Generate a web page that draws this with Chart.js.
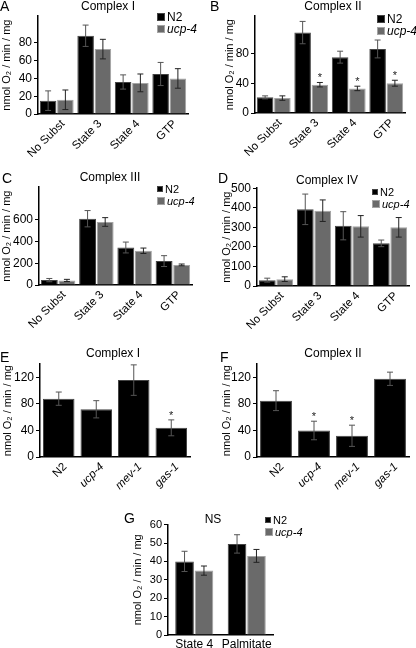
<!DOCTYPE html>
<html>
<head>
<meta charset="utf-8">
<script src="https://cdn.jsdelivr.net/npm/chart.js@4"></script>
<style>
  body { margin: 0; background: #fff; }
  #wrap { position: relative; width: 416px; height: 648px; overflow: hidden; font-family: "Liberation Sans", Arial, sans-serif; color: #000; }
  canvas { position: absolute; }
  .txt { position: absolute; white-space: nowrap; line-height: 1; transform: translate(-50%, -50%); }
  .letter { position: absolute; font-size: 14px; line-height: 1; }
  .leg { position: absolute; font-size: 12px; line-height: 1; white-space: nowrap; }
  .leg div { height: 12px; display: flex; align-items: center; }
  .leg span.sq { display: inline-block; margin-right: 2px; box-sizing: border-box; }
  .slant { position: absolute; width: 0; height: 0; transform: rotate(-45deg); transform-origin: 0 0; }
  .slant span { position: absolute; right: 0; top: 0; transform: translateY(-50%); white-space: nowrap; font-size: 11.5px; line-height: 1; }
</style>
</head>
<body>
<div id="wrap">
  <canvas id="cA"></canvas><canvas id="cB"></canvas>
  <canvas id="cC"></canvas><canvas id="cD"></canvas>
  <canvas id="cE"></canvas><canvas id="cF"></canvas>
  <canvas id="cG"></canvas>
</div>
<script>
// categories
const substrates = ["No Subst", "State 3", "State 4", "GTP"];
const strains = ["N2", "ucp-4", "mev-1", "gas-1"];
const fatLabels = ["State 4", "Palmitate"];
const seriesNames = ["N2", "ucp-4"];

// A - complex I
const aN2 = [15, 88, 36, 45];
const aN2Err = [11, 12, 8, 13];
const aUcp = [16, 73, 35, 40];
const aUcpErr = [11, 11, 10, 11];

// B - complex II
const bN2 = [21, 108, 75, 86];
const bN2Err = [2, 15, 8, 12];
const bUcp = [20, 38, 33, 40];
const bUcpErr = [3, 3, 3, 4];
const bUcpStars = [false, true, true, true];

// C - complex III
const cN2 = [45, 610, 345, 220];
const cN2Err = [15, 75, 50, 50];
const cUcp = [42, 580, 315, 185];
const cUcpErr = [10, 40, 25, 8];

// D - complex IV
const dN2 = [30, 392, 308, 218];
const dN2Err = [10, 78, 72, 17];
const dUcp = [35, 385, 305, 300];
const dUcpErr = [12, 55, 55, 50];

// E / F - mutants
const eVals = [88, 72, 116, 44];
const eErr = [10, 13, 23, 12];
const eStars = [false, false, false, true];
const fVals = [85, 40, 32, 118];
const fErr = [15, 14, 16, 10];
const fStars = [false, true, true, false];

// G - palmitate
const gN2 = [40, 49.5];
const gN2Err = [5.5, 5];
const gUcp = [35, 43];
const gUcpErr = [2.5, 3.5];

const FONT = '"Liberation Sans", Arial, sans-serif';
Chart.defaults.font.family = FONT;
Chart.defaults.color = "#000";

const BLACK = { bg: "#000", border: "#444", err: "#555" };
const GREY = { bg: "#6a6a6a", border: "#a4a4a4", err: "#222" };
const wrap = document.getElementById("wrap");

const errorBars = {
  id: "errorBars",
  afterDatasetsDraw(chart) {
    const ctx = chart.ctx;
    const y = chart.scales.y;
    chart.data.datasets.forEach((ds, i) => {
      const meta = chart.getDatasetMeta(i);
      meta.data.forEach((bar, j) => {
        const v = ds.data[j], e = ds.errors[j];
        const top = y.getPixelForValue(v + e);
        const bot = y.getPixelForValue(Math.max(v - e, 0));
        const half = Math.min(3, bar.width * 0.18);
        ctx.save();
        ctx.strokeStyle = ds.errColor;
        ctx.lineWidth = 1;
        ctx.beginPath();
        ctx.moveTo(bar.x, top); ctx.lineTo(bar.x, bot);
        ctx.moveTo(bar.x - half, top); ctx.lineTo(bar.x + half, top);
        ctx.moveTo(bar.x - half, bot); ctx.lineTo(bar.x + half, bot);
        ctx.stroke();
        if (ds.stars && ds.stars[j]) {
          ctx.fillStyle = "#222";
          ctx.font = "11px " + FONT;
          ctx.textAlign = "center";
          ctx.textBaseline = "alphabetic";
          ctx.fillText("*", bar.x, top - 1);
        }
        ctx.restore();
      });
    });
  }
};

function makeChart(id, o) {
  const cv = document.getElementById(id);
  const left = o.plotLeft - o.yw;
  const top = o.plotTop - o.padTop;
  const w = Math.round(o.plotRight + 2 - left);
  const h = Math.round(o.plotBottom - top + o.xh);
  cv.style.left = left + "px";
  cv.style.top = top + "px";
  cv.width = w; cv.height = h;
  cv.style.width = w + "px"; cv.style.height = h + "px";

  const chart = new Chart(cv, {
    type: "bar",
    data: {
      labels: o.labels,
      datasets: o.sets.map(s => ({
        label: s.label,
        data: s.data,
        errors: s.err,
        stars: s.stars,
        errColor: s.style.err,
        backgroundColor: s.style.bg,
        borderColor: s.style.border,
        borderWidth: 1,
        barPercentage: o.barPct,
        categoryPercentage: o.catPct,
      })),
    },
    options: {
      responsive: false,
      animation: false,
      layout: { padding: { top: o.padTop, right: 2, left: 0, bottom: 0 } },
      plugins: { legend: { display: false }, tooltip: { enabled: false } },
      scales: {
        x: {
          grid: { display: false, drawTicks: false, tickLength: 0 },
          border: { color: "#000", width: 1.5 },
          ticks: {
            display: !o.slant,
            color: "#000",
            font: { size: 12 },
            maxRotation: 0,
            autoSkip: false,
            padding: 2,
          },
          afterFit: s => { s.height = o.xh; },
        },
        y: {
          min: 0, max: o.max,
          border: { color: "#000", width: 1.5 },
          grid: { drawOnChartArea: false, color: "#000", tickLength: 4 },
          ticks: {
            stepSize: o.step, color: "#000", padding: 2,
            font: { size: o.yFont || 12 },
            callback: v => (v % o.labelStep === 0 ? v : ""),
          },
          title: {
            display: true, text: "nmol O₂ / min / mg", color: "#000",
            font: { size: 11 }, padding: { top: 0, bottom: 2 },
          },
          afterBuildTicks: s => { s.ticks = s.ticks.filter(t => t.value % o.step === 0); },
          afterFit: s => { s.width = o.yw; },
        },
      },
    },
    plugins: [errorBars],
  });

  // 45 degree category labels at the x scale's tick pixels
  if (o.slant) {
    const xs = chart.scales.x;
    chart.data.labels.forEach((lab, i) => {
      const d = document.createElement("div");
      d.className = "slant";
      d.style.left = (left + xs.getPixelForTick(i) + 6) + "px";
      d.style.top = (top + xs.top + 8) + "px";
      const sp = document.createElement("span");
      sp.textContent = lab;
      if (o.italic && o.italic[i]) sp.style.fontStyle = "italic";
      d.appendChild(sp);
      wrap.appendChild(d);
    });
  }
  return chart;
}

function pair(n2, n2e, ucp, ucpe, stars) {
  return [
    { label: seriesNames[0], data: n2, err: n2e, style: BLACK },
    { label: seriesNames[1], data: ucp, err: ucpe, stars: stars, style: GREY },
  ];
}

makeChart("cA", { labels: substrates, sets: pair(aN2, aN2Err, aUcp, aUcpErr),
  plotLeft: 38, plotRight: 188, plotTop: 13, plotBottom: 114, yw: 38, padTop: 6, xh: 44,
  max: 110, step: 20, labelStep: 20, slant: true, barPct: 0.96, catPct: 0.92 });
makeChart("cB", { labels: substrates, sets: pair(bN2, bN2Err, bUcp, bUcpErr, bUcpStars),
  plotLeft: 255, plotRight: 405, plotTop: 13, plotBottom: 113, yw: 32, padTop: 6, xh: 44,
  max: 130, step: 40, labelStep: 40, slant: true, barPct: 0.96, catPct: 0.92 });
makeChart("cC", { labels: substrates, sets: pair(cN2, cN2Err, cUcp, cUcpErr),
  plotLeft: 39, plotRight: 192, plotTop: 184, plotBottom: 285, yw: 39, padTop: 6, xh: 44,
  max: 900, step: 200, labelStep: 200, slant: true, barPct: 0.96, catPct: 0.92 });
makeChart("cD", { labels: substrates, sets: pair(dN2, dN2Err, dUcp, dUcpErr),
  plotLeft: 257, plotRight: 409, plotTop: 187, plotBottom: 286, yw: 37, padTop: 8, xh: 44,
  max: 500, step: 100, labelStep: 100, slant: true, barPct: 0.96, catPct: 0.92 });

const mutantItalic = [false, true, true, true];
makeChart("cE", { labels: strains, sets: [{ label: "Complex I", data: eVals, err: eErr, stars: eStars, style: BLACK }],
  plotLeft: 40, plotRight: 190, plotTop: 361, plotBottom: 457, yw: 39, padTop: 6, xh: 40,
  max: 140, step: 20, labelStep: 40, slant: true, italic: mutantItalic, barPct: 0.84, catPct: 1 });
makeChart("cF", { labels: strains, sets: [{ label: "Complex II", data: fVals, err: fErr, stars: fStars, style: BLACK }],
  plotLeft: 257, plotRight: 409, plotTop: 361, plotBottom: 457, yw: 37, padTop: 6, xh: 40,
  max: 140, step: 20, labelStep: 40, slant: true, italic: mutantItalic, barPct: 0.84, catPct: 1 });
makeChart("cG", { labels: fatLabels, sets: pair(gN2, gN2Err, gUcp, gUcpErr),
  plotLeft: 168, plotRight: 273, plotTop: 522, plotBottom: 635, yw: 37, padTop: 6, xh: 14,
  max: 60, step: 10, labelStep: 10, slant: false, barPct: 0.96, catPct: 0.74, yFont: 11 });

// text: panel letters, titles, legends
function addText(cls, text, x, y, size) {
  const d = document.createElement("div");
  d.className = cls;
  d.textContent = text;
  d.style.left = x + "px";
  d.style.top = y + "px";
  if (size) d.style.fontSize = size + "px";
  wrap.appendChild(d);
}
[["A", 0, -1], ["B", 210, -1], ["C", 2, 171], ["D", 218, 171], ["E", 0, 350], ["F", 220, 350], ["G", 124, 511]]
  .forEach(([t, x, y]) => addText("letter", t, x, y));
[["Complex I", 108, 6], ["Complex II", 333, 6], ["Complex III", 110, 177], ["Complex IV", 327, 180],
 ["Complex I", 113, 353], ["Complex II", 333, 353], ["NS", 213, 519]]
  .forEach(([t, x, y]) => addText("txt", t, x, y, 12));

function addLegend(x, y, size, sq1, sq2) {
  const box = document.createElement("div");
  box.className = "leg";
  box.style.left = x + "px";
  box.style.top = y + "px";
  box.style.fontSize = size + "px";
  const styles = [BLACK, GREY];
  const sqs = [sq1, sq2];
  seriesNames.forEach((name, i) => {
    const row = document.createElement("div");
    const sq = document.createElement("span");
    sq.className = "sq";
    sq.style.width = sqs[i] + "px";
    sq.style.height = sqs[i] + "px";
    sq.style.background = styles[i].bg;
    sq.style.border = "1px solid " + styles[i].border;
    const lab = document.createElement("span");
    lab.textContent = name;
    if (i === 1) lab.style.fontStyle = "italic";
    row.appendChild(sq); row.appendChild(lab);
    box.appendChild(row);
  });
  wrap.appendChild(box);
}
addLegend(157, 11, 12, 8, 8);
addLegend(377, 13, 12, 8, 8);
addLegend(157, 183, 11, 6, 8);
addLegend(372, 186, 11, 6, 8);
addLegend(265, 514, 11, 6, 8);
</script>
</body>
</html>
